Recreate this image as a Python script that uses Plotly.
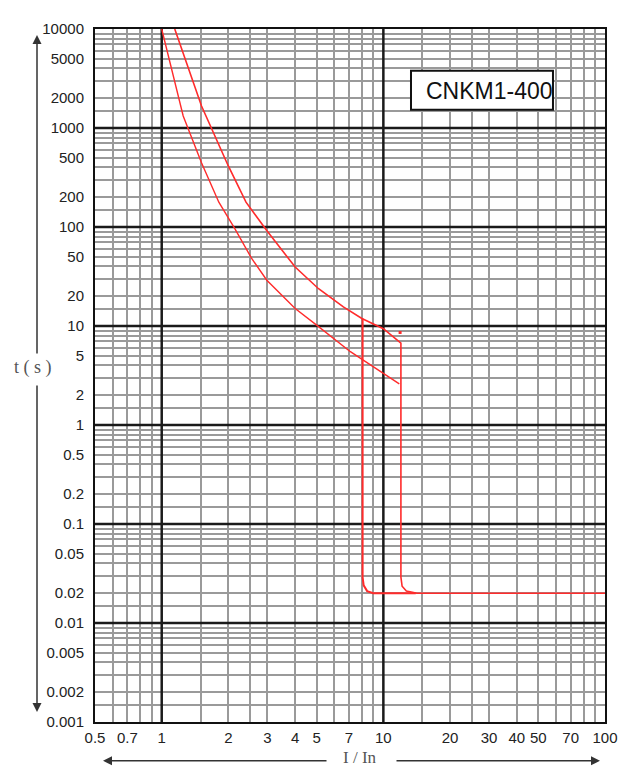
import plotly.graph_objects as go
import numpy as np

# ---- data ----
x_labels = [0.5, 0.7, 1, 2, 3, 4, 5, 7, 10, 20, 30, 40, 50, 70, 100]
y_labels = [10000, 5000, 2000, 1000, 500, 200, 100, 50, 20, 10, 5, 2, 1,
            0.5, 0.2, 0.1, 0.05, 0.02, 0.01, 0.005, 0.002, 0.001]
y_label_text = ["10000", "5000", "2000", "1000", "500", "200", "100", "50", "20", "10", "5", "2", "1",
                "0.5", "0.2", "0.1", "0.05", "0.02", "0.01", "0.005", "0.002", "0.001"]

x_grid = [0.6, 0.7, 0.8, 0.9, 1.5, 2, 2.5, 3, 4, 5, 6, 7, 8, 9,
          15, 20, 25, 30, 40, 50, 60, 70, 80, 90]
y_grid_mult = [1, 1.5, 2, 3, 4, 5, 6, 7, 8, 9]
y_decades = [0.001, 0.01, 0.1, 1, 10, 100, 1000]
x_major = [1, 10]
y_major = [0.01, 0.1, 1, 10, 100, 1000]
x_min, x_max = 0.5, 100
y_min, y_max = 0.001, 10000

# upper (slow) curve + instantaneous trip at 12 In
upper_x = [1.145, 1.512, 1.995, 2.4, 2.977, 4.0, 5.1, 6.6, 8.0, 10.0, 12.0, 12.0, 12.15, 12.7, 14.2, 100]
upper_t = [10000, 1668, 416, 178, 92, 39.4, 23.8, 15.6, 11.9, 9.4, 6.7, 0.029, 0.0235, 0.021, 0.02, 0.02]
# lower (fast) curve
lower_x = [1.0, 1.25, 1.51, 1.65, 1.81, 2.14, 2.55, 2.98, 4.0, 5.0, 7.1, 11.8]
lower_t = [10000, 1324, 449, 282, 178, 95.7, 47.8, 29.0, 15.0, 10.2, 5.5, 2.6]
# instantaneous trip at 8 In
inst_x = [8.06, 8.06, 8.15, 8.45, 9.0, 14.0]
inst_t = [11.9, 0.029, 0.024, 0.021, 0.02, 0.02]
dot_x = [11.9]
dot_t = [8.6]

y_grid = [d * m for d in y_decades for m in y_grid_mult] + [10000]

RED = "#ff2b2b"
fig = go.Figure()
for xs, ts, w in [(upper_x, upper_t, 1.6), (lower_x, lower_t, 1.4), (inst_x, inst_t, 2.0)]:
    fig.add_trace(go.Scatter(x=xs, y=ts, mode="lines", line=dict(color=RED, width=w),
                             hoverinfo="skip", showlegend=False))
fig.add_trace(go.Scatter(x=dot_x, y=dot_t, mode="markers",
                         marker=dict(color=RED, size=3, symbol="square"),
                         hoverinfo="skip", showlegend=False))

shapes = []
for xv in x_major:
    shapes.append(dict(type="line", xref="x", yref="y", x0=xv, x1=xv, y0=y_min, y1=y_max,
                       line=dict(color="#1a1a1a", width=2.5), layer="between"))
for yv in y_major:
    shapes.append(dict(type="line", xref="x", yref="y", x0=x_min, x1=x_max, y0=yv, y1=yv,
                       line=dict(color="#1a1a1a", width=2.5), layer="between"))
# title box
shapes.append(dict(type="rect", xref="paper", yref="paper", x0=0.6196, x1=0.898, y0=0.8836, y1=0.9397,
                   line=dict(color="#111", width=2), fillcolor="white", layer="above"))

tickfont = dict(family="Liberation Sans, Arial, sans-serif", size=15, color="#222")
# page has an 8px body margin: plot area lands at page x 95..605, y 26..722
fig.update_layout(
    width=622, height=761,
    margin=dict(l=87, r=25, t=18, b=47),
    paper_bgcolor="white", plot_bgcolor="white",
    shapes=shapes,
    xaxis=dict(type="log", range=[np.log10(x_min), np.log10(x_max)], tickvals=x_labels,
               ticktext=[str(v) for v in x_labels], tickfont=tickfont,
               showgrid=False, zeroline=False, ticks="", ticklabelstandoff=1,
               showline=True, linecolor="#111", linewidth=2, mirror=True,
               minor=dict(tickvals=x_grid, showgrid=True, gridcolor="#9a9a9a", gridwidth=2, ticks="")),
    yaxis=dict(type="log", range=[np.log10(y_min), np.log10(y_max)], tickvals=y_labels, ticktext=y_label_text,
               tickfont=tickfont, showgrid=False, zeroline=False, ticks="", ticklabelstandoff=6,
               showline=True, linecolor="#111", linewidth=2, mirror=True,
               minor=dict(tickvals=y_grid, showgrid=True, gridcolor="#9a9a9a", gridwidth=2, ticks="")),
)

ann = []
ann.append(dict(text="CNKM1-400", xref="paper", yref="paper", x=(489 - 95) / 510, y=(722 - 88) / 696,
                xanchor="center", yanchor="middle",
                showarrow=False, font=dict(family="Liberation Sans, Arial, sans-serif", size=23, color="#111")))
ann.append(dict(text="t ( s )", xref="paper", yref="paper", x=(33 - 95) / 510, y=(722 - 366) / 696,
                xanchor="center", yanchor="middle",
                showarrow=False, font=dict(family="Liberation Serif, Times New Roman, serif", size=18, color="#555")))
ann.append(dict(text="I / In", xref="paper", yref="paper", x=(360 - 95) / 510, y=(722 - 758) / 696,
                xanchor="center", yanchor="middle",
                showarrow=False, font=dict(family="Liberation Serif, Times New Roman, serif", size=17, color="#555")))
arrow_style = dict(showarrow=True, arrowhead=2, arrowsize=1.2, arrowwidth=1.5, arrowcolor="#333",
                   text="", xref="paper", yref="paper")
# vertical arrows
ann.append(dict(x=(37 - 95) / 510, y=(722 - 32) / 696, ax=0, ay=320, **arrow_style))
ann.append(dict(x=(37 - 95) / 510, y=(722 - 712) / 696, ax=0, ay=-328, **arrow_style))
# horizontal arrows
ann.append(dict(x=(103 - 95) / 510, y=(722 - 761) / 696, ax=225, ay=0, **arrow_style))
ann.append(dict(x=(600 - 95) / 510, y=(722 - 761) / 696, ax=-205, ay=0, **arrow_style))
fig.update_layout(annotations=ann)

fig.write_html("out.html")
